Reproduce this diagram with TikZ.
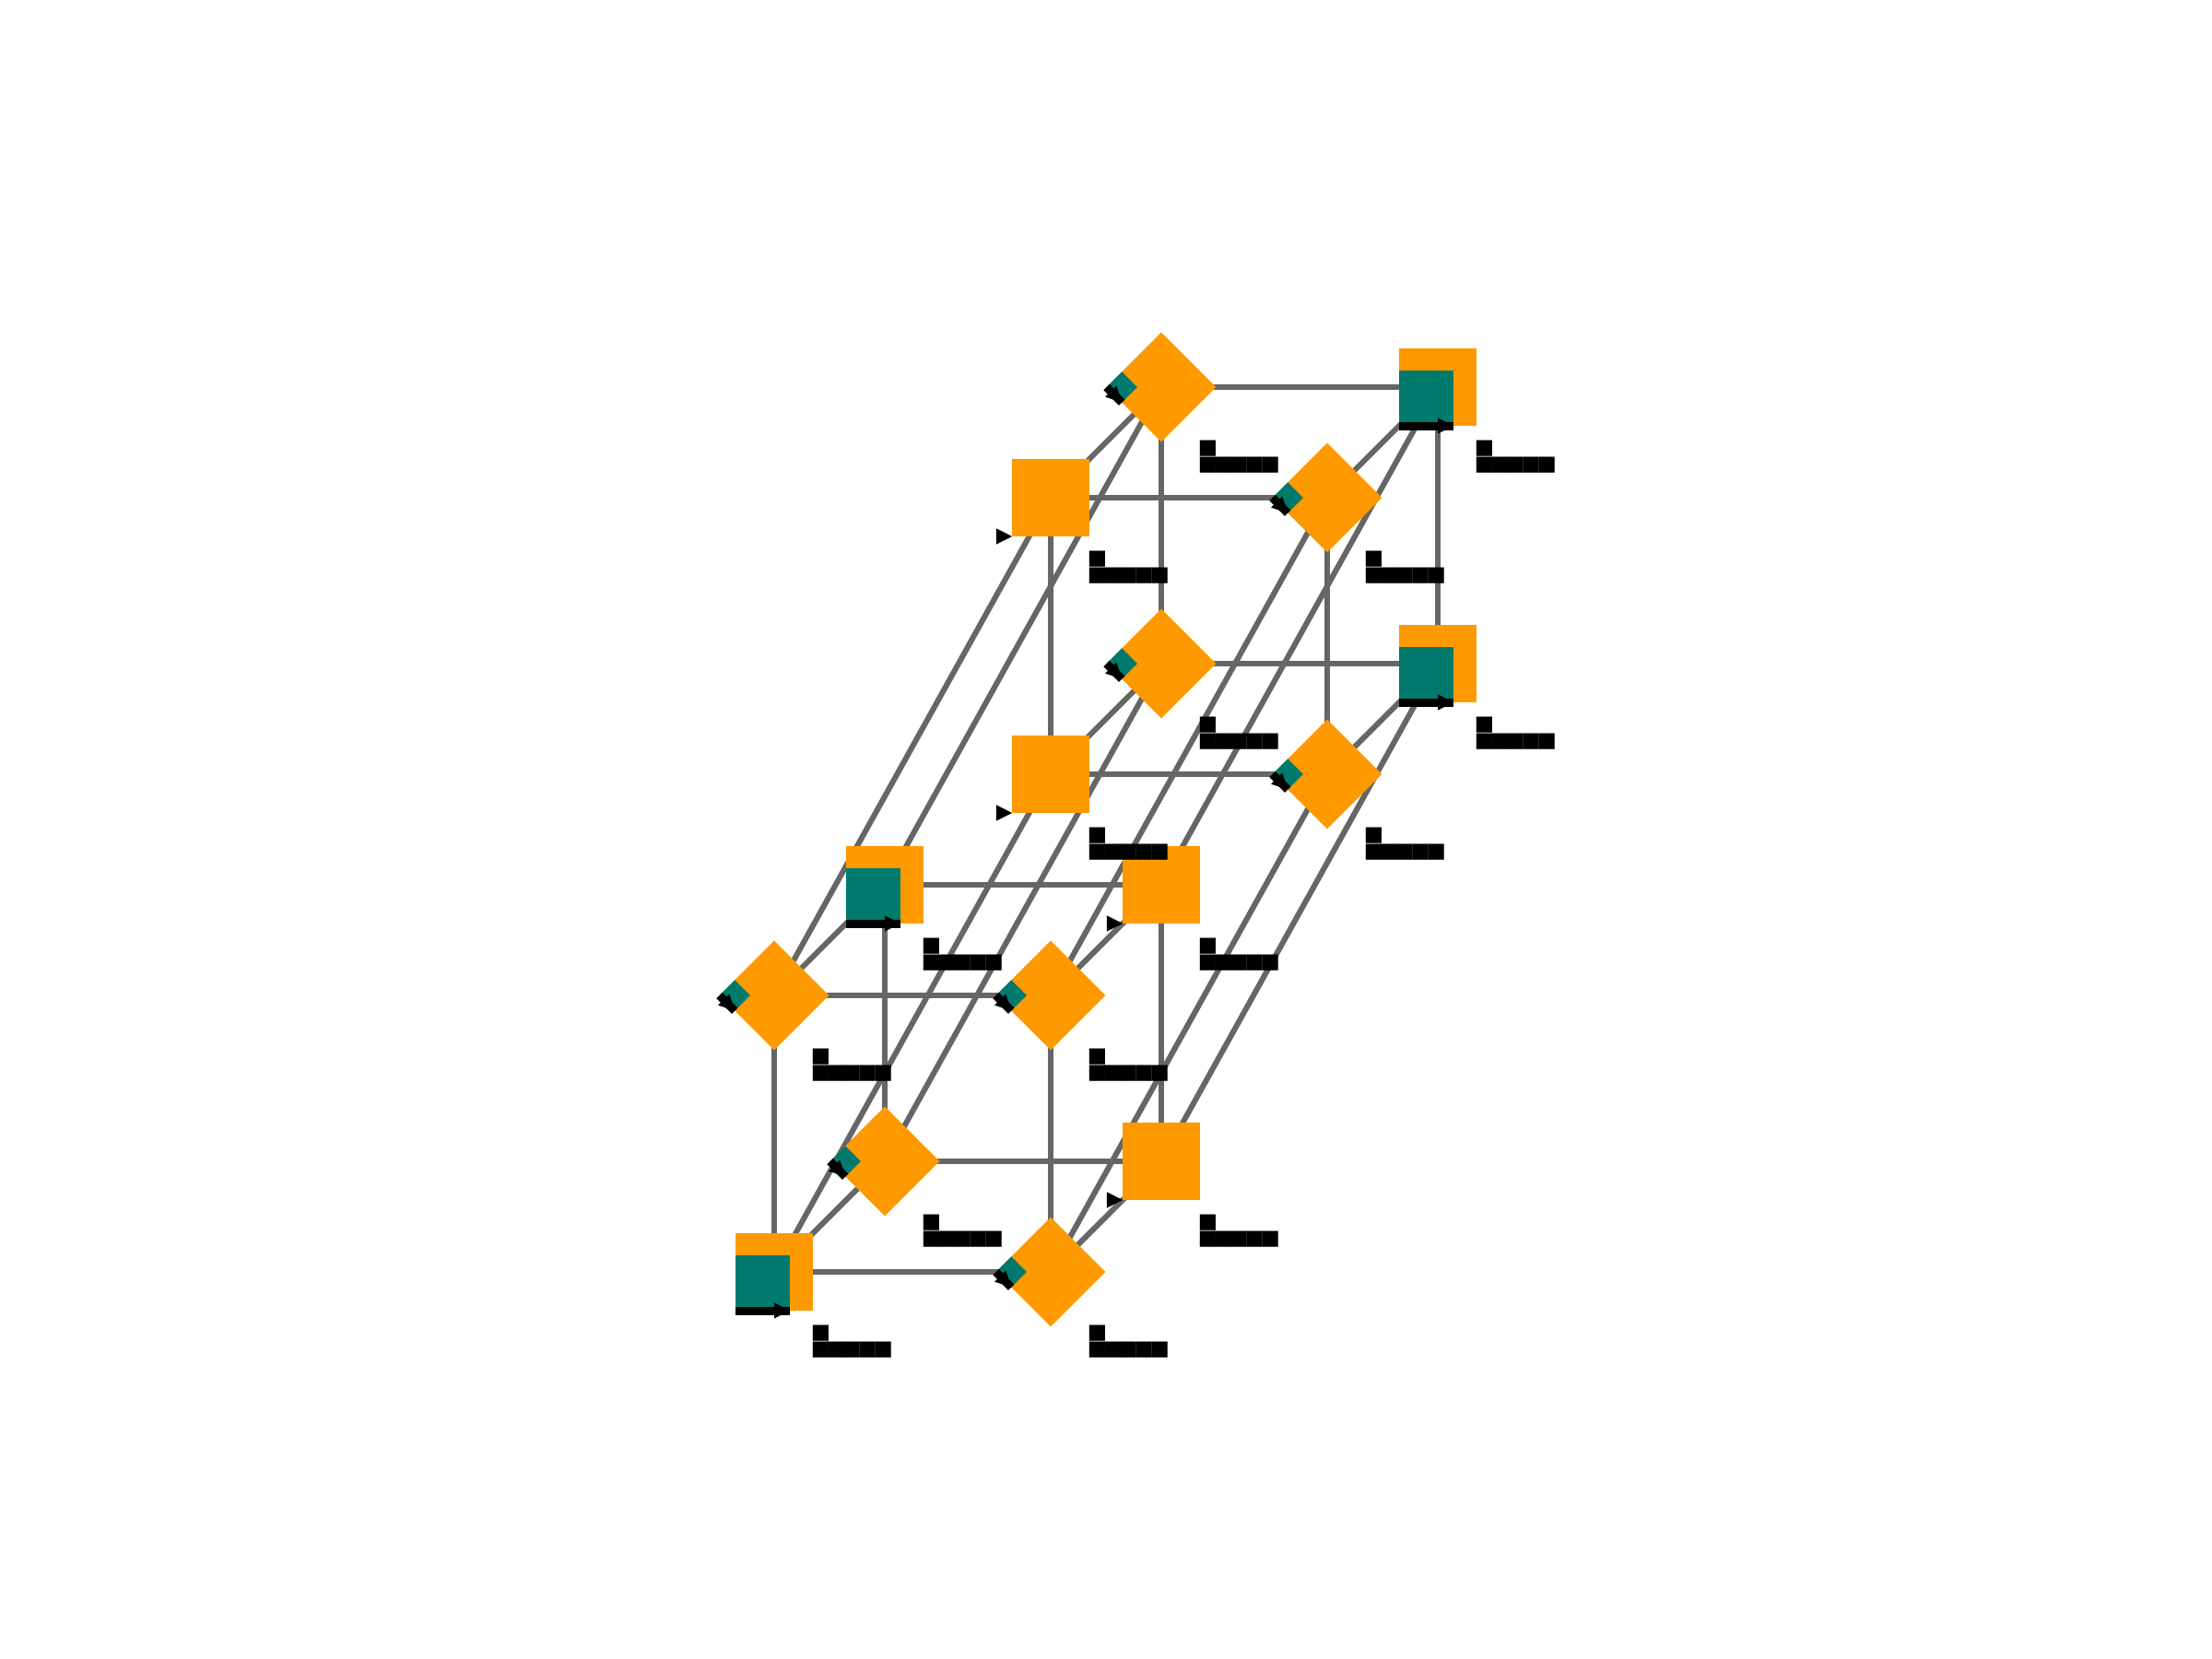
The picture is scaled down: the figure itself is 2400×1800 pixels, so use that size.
\documentclass[tikz,border=0pt]{standalone}
\usepackage{fontspec}
\usetikzlibrary{arrows.meta,backgrounds}
\newfontfamily\boxfont{DejaVu Sans}
\definecolor{nodeorange}{HTML}{FF9900}
\definecolor{nodeteal}{HTML}{007A6C}
\definecolor{edgegray}{HTML}{666666}
\newcommand{\tbx}{\makebox[0.169cm][c]{■}}
\tikzset{
  x=0.01cm,y=0.01cm,
  edgeline/.style={draw=edgegray,line width=0.06cm},
  sqnode/.style={rectangle,fill=nodeorange,inner sep=0,outer sep=0,minimum size=0.84cm},
  dianode/.style={sqnode,rotate=-45},
  tealsq/.style={rectangle,fill=nodeteal,inner sep=0,outer sep=0,anchor=south west,minimum width=0.59cm,minimum height=0.60cm},
  tealdia/.style={rectangle,fill=nodeteal,inner sep=0,outer sep=0,anchor=south west,rotate=-45,minimum width=0.235cm,minimum height=0.235cm},
  bandline/.style={draw=black,line width=0.09cm},
  bareline/.style={draw=black,line width=0.1pt,-{Triangle[length=0.17cm,width=0.17cm]}},
  lab/.style={anchor=north west,inner sep=0,outer sep=0,align=left,font=\boxfont\fontsize{6.4}{5.12}\selectfont}
}
\newcommand{\labtext}{\tbx\\\tbx\tbx\tbx\tbx\tbx}
\begin{document}
\begin{tikzpicture}
\path[use as bounding box] (0,0) rectangle (2400,1800);
% square nodes with a teal inset
\foreach \n/\px/\py in {n0000/840/420,n0110/960/840,n1011/1560/1080,n1111/1560/1380}{
  \node[sqnode] (\n) at (\px,\py) {};
  \node[lab] (l\n) at (\px+42,\py-58) {\labtext};
  \node[tealsq] (t\n) at (\n.south west) {};
  \draw[bandline] (t\n.south west) -- (t\n.south east);
  \draw[bareline] (t\n.south west) -- (t\n.south east);
}
% plain square nodes
\foreach \n/\px/\py in {n1010/1260/540,n1110/1260/840,n0001/1140/960,n0101/1140/1260}{
  \node[sqnode] (\n) at (\px,\py) {};
  \node[lab] (l\n) at (\px+42,\py-58) {\labtext};
  \coordinate (s\n) at ([xshift=-0.17cm]\n.south west);
  \draw[bareline] (s\n) -- (\n.south west);
}
% diamond nodes
\foreach \n/\px/\py in {n1000/1140/420,n0100/840/720,n1100/1140/720,n0010/960/540,n1001/1440/960,n1101/1440/1260,n0011/1260/1080,n0111/1260/1380}{
  \node[dianode] (\n) at (\px,\py) {};
  \node[lab] (l\n) at (\px+42,\py-58) {\labtext};
  \node[tealdia] (t\n) at (\n.south west) {};
  \draw[bandline] (t\n.south west) -- (t\n.south east);
  \draw[bareline] (t\n.south west) -- (t\n.south east);
}
% edges lie behind the nodes
\begin{scope}[on background layer]
\foreach \a/\b in {
  n0000/n1000,n0100/n1100,n0010/n1010,n0110/n1110,
  n0001/n1001,n0101/n1101,n0011/n1011,n0111/n1111,
  n0000/n0100,n1000/n1100,n0010/n0110,n1010/n1110,
  n0001/n0101,n1001/n1101,n0011/n0111,n1011/n1111,
  n0000/n0010,n1000/n1010,n0100/n0110,n1100/n1110,
  n0001/n0011,n1001/n1011,n0101/n0111,n1101/n1111,
  n0000/n0001,n1000/n1001,n0100/n0101,n1100/n1101,
  n0010/n0011,n1010/n1011,n0110/n0111,n1110/n1111}{
  \draw[edgeline] (\a.center) -- (\b.center);
}
\end{scope}
\end{tikzpicture}
\end{document}
